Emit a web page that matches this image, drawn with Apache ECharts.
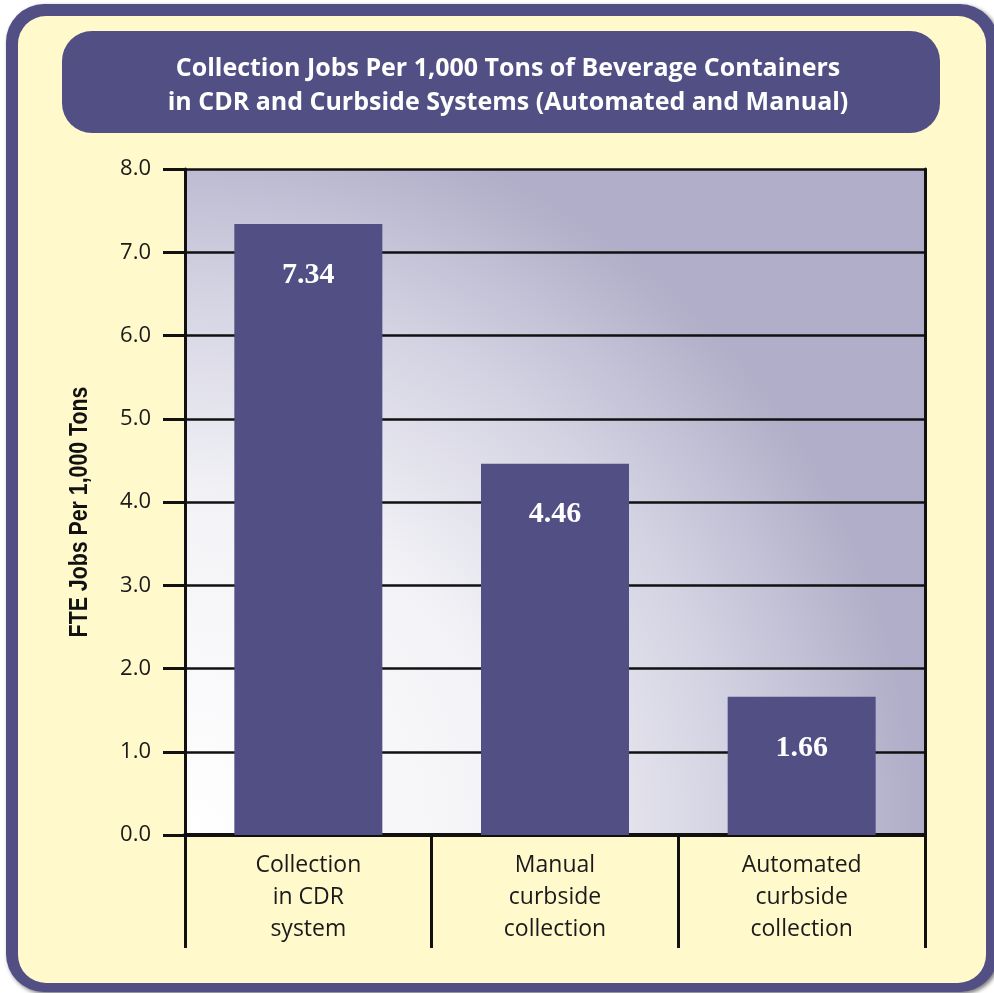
<!DOCTYPE html>
<html>
<head>
<meta charset="utf-8">
<script src="https://cdn.jsdelivr.net/npm/echarts@6/dist/echarts.min.js"></script>
<style>
  html, body { margin: 0; padding: 0; background: #ffffff; }
  #chart { width: 994px; height: 993px; }
</style>
</head>
<body>
<div id="chart"></div>
<script>
// Collection jobs per 1,000 tons of beverage containers
const categories = [
  'Collection\nin CDR\nsystem',
  'Manual\ncurbside\ncollection',
  'Automated\ncurbside\ncollection'
];
const jobsPerKTon = [7.34, 4.46, 1.66];
const titleLines = [
  'Collection Jobs Per 1,000 Tons of Beverage Containers',
  'in CDR and Curbside Systems (Automated and Manual)'
];
const yAxisTitle = 'FTE Jobs Per 1,000 Tons';
const yMin = 0, yMax = 8, yStep = 1;

const PURPLE = '#524F85';
const CREAM = '#FFF9CC';
const INK = '#111111';

const chart = echarts.init(document.getElementById('chart'), null, { renderer: 'canvas' });

chart.setOption({
  backgroundColor: '#ffffff',
  animation: false,
  graphic: [
    { // outer purple frame
      type: 'rect', z: -10, silent: true,
      shape: { x: 6, y: 4, width: 992, height: 988, r: 38 },
      style: { fill: PURPLE, shadowColor: 'rgba(0,0,0,0.55)', shadowBlur: 4, shadowOffsetX: 2, shadowOffsetY: 2 }
    },
    { // cream panel
      type: 'rect', z: -9, silent: true,
      shape: { x: 18, y: 16, width: 968, height: 967, r: 28 },
      style: { fill: CREAM }
    },
    { // title banner
      type: 'rect', z: -8, silent: true,
      shape: { x: 62, y: 31, width: 878, height: 102, r: 30 },
      style: { fill: PURPLE }
    },
    { // vertical axis title, condensed bold
      type: 'text', z: 5, silent: true,
      x: 80, y: 512,
      rotation: Math.PI / 2,
      scaleX: 0.82,
      style: {
        text: yAxisTitle,
        fill: INK,
        font: 'bold 26px "Liberation Sans", Arial, sans-serif',
        align: 'center',
        verticalAlign: 'middle'
      }
    }
  ],
  title: {
    text: titleLines.join('\n'),
    left: 503,
    top: 47,
    textAlign: 'center',
    textStyle: {
      color: '#ffffff',
      fontFamily: 'Open Sans',
      fontWeight: 'bold',
      fontSize: 25,
      lineHeight: 34
    }
  },
  grid: {
    left: 185,
    right: 69,
    top: 169,
    bottom: 158,
    show: true,
    borderWidth: 0,
    backgroundColor: new echarts.graphic.RadialGradient(0, 1, 1.1, [
      { offset: 0, color: '#FFFFFF' },
      { offset: 0.45, color: '#F3F3F7' },
      { offset: 0.75, color: '#D3D2E2' },
      { offset: 1, color: '#B0AEC8' }
    ])
  },
  xAxis: {
    type: 'category',
    data: categories,
    boundaryGap: true,
    axisLine: { show: true, lineStyle: { color: INK, width: 4 } },
    axisTick: { show: true, length: 113, interval: 0, lineStyle: { color: INK, width: 3 } },
    axisLabel: {
      margin: 14,
      interval: 0,
      color: '#1a1a1a',
      fontFamily: 'Open Sans',
      fontSize: 23,
      lineHeight: 32,
      align: 'center'
    },
    splitLine: { show: false }
  },
  yAxis: [
    {
      type: 'value',
      min: yMin,
      max: yMax,
      interval: yStep,
      axisLine: { show: true, lineStyle: { color: INK, width: 3 } },
      axisTick: { show: true, length: 22, lineStyle: { color: INK, width: 3 } },
      axisLabel: {
        margin: 34,
        color: '#1a1a1a',
        fontFamily: 'Open Sans',
        fontSize: 22,
        formatter: v => v.toFixed(1)
      },
      splitLine: { show: true, lineStyle: { color: INK, width: 2.5 } }
    },
    {
      type: 'value',
      position: 'right',
      min: yMin,
      max: yMax,
      interval: yStep,
      axisLine: { show: true, lineStyle: { color: INK, width: 3 } },
      axisTick: { show: false },
      axisLabel: { show: false },
      splitLine: { show: false }
    }
  ],
  series: [
    {
      type: 'bar',
      data: jobsPerKTon,
      barWidth: '60%',
      itemStyle: { color: PURPLE },
      z: 3,
      label: {
        show: true,
        position: 'insideTop',
        distance: 36,
        color: '#ffffff',
        fontFamily: 'Liberation Serif',
        fontWeight: 'bold',
        fontSize: 30,
        formatter: p => p.value.toFixed(2)
      }
    }
  ]
});
</script>
</body>
</html>
